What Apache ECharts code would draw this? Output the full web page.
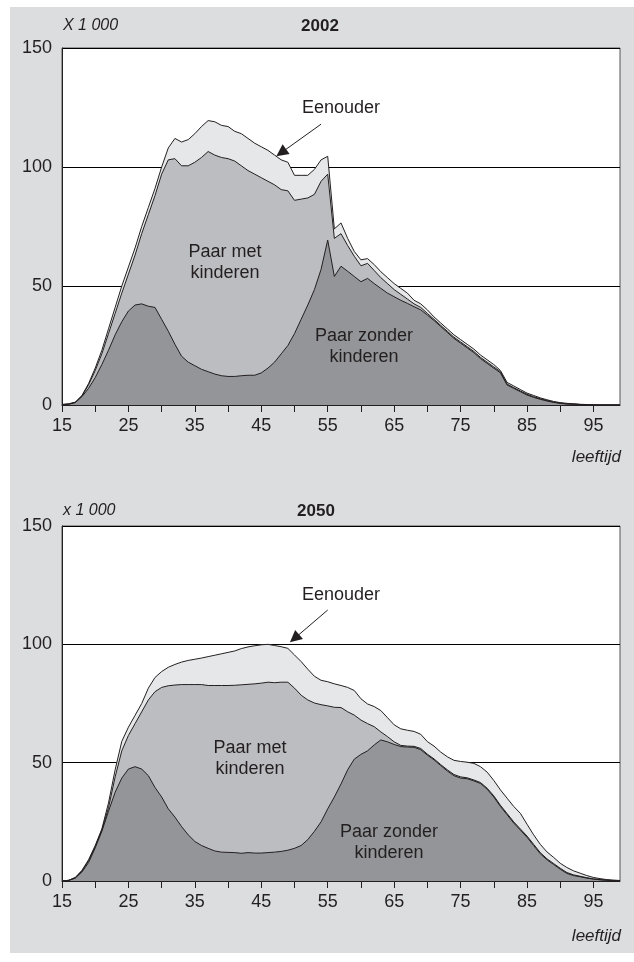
<!DOCTYPE html>
<html>
<head>
<meta charset="utf-8">
<title>Huishoudens naar leeftijd, 2002 en 2050</title>
<script src="https://cdn.jsdelivr.net/npm/echarts@6/dist/echarts.min.js"></script>
<style>
  html, body { margin: 0; padding: 0; background: #fff; }
  #panel { position: absolute; left: 10px; top: 7px; width: 624px; height: 946px; background: #dcdddf; }
  #main { position: absolute; left: 0; top: 0; width: 634px; height: 962px; }
</style>
</head>
<body>
<div id="panel"></div>
<div id="main"></div>
<script>
// leeftijd 15..99
var ages = [];
for (var a = 15; a <= 99; a++) ages.push(a);

// upper edges of the stacked layers (x 1 000)
// 2002
var zonder2002 = [0.1, 0.3, 1, 3.5, 7, 11.5, 17, 23, 29.5, 35,
  39.5, 42, 42.5, 41.5, 41, 36, 31, 25.5, 20.5, 18,
  16.5, 15, 14, 13, 12.3, 12, 12, 12.3, 12.5, 12.5,
  13.5, 15.5, 18, 21.5, 25, 30, 36, 42, 48.5, 57,
  69.3, 54, 58.3, 56.2, 54, 51.8, 53.2, 51, 49, 47,
  45.5, 44, 42.7, 41.3, 40, 37.8, 35.5, 33, 30.5, 28,
  26, 24, 22, 19.5, 17.5, 15.5, 13.5, 8.4, 7, 5.6,
  4.2, 3.2, 2.4, 1.7, 1.1, 0.7, 0.4, 0.3, 0.2, 0.1,
  0, 0, 0, 0, 0];
var met2002 = [0.2, 0.4, 1.1, 3.8, 8.5, 14.5, 21.5, 30, 38.5, 47,
  55, 63, 72, 80, 88, 97, 103, 103.5, 100.5, 100.5,
  102, 104, 106.5, 105, 104, 103.5, 102.5, 100.5, 98.5, 97,
  95.5, 94, 92.5, 90.5, 90, 86, 86.5, 87, 88.5, 94,
  97, 70, 72, 67, 62.5, 58.5, 59.5, 56.5, 53.5, 51,
  48.5, 46.5, 44.5, 42.5, 41, 38.5, 36, 33.5, 31, 28.5,
  26.5, 24.5, 22.5, 20, 18, 16, 14, 8.8, 7.3, 5.9,
  4.5, 3.5, 2.6, 1.9, 1.2, 0.8, 0.5, 0.4, 0.2, 0.1,
  0, 0, 0, 0, 0];
var eenouder2002 = [0.2, 0.5, 1.2, 4, 9, 15.5, 23, 32, 41, 50,
  58, 66, 75, 83, 91, 100, 108, 112, 110.5, 111.5,
  114, 117, 119.5, 119, 117.5, 117, 115, 114, 112, 110,
  108.5, 107, 105, 103, 102, 96.5, 96.5, 96.5, 99, 103,
  104.5, 74, 76.5, 70, 64.5, 61, 61.5, 59, 56, 53.5,
  51, 49, 47, 44, 42.5, 40, 37, 34.5, 32, 29.5,
  27.5, 25.5, 23.5, 21, 19, 17, 14.5, 9.5, 8, 6.5,
  5, 4, 3, 2.2, 1.5, 1, 0.7, 0.5, 0.3, 0.2,
  0.1, 0, 0, 0, 0];

// 2050
var zonder2050 = [0, 0.2, 1.2, 3.8, 7.8, 14, 21, 29.5, 37.5, 43.5,
  47.3, 48.3, 47.3, 44.5, 39.5, 35.5, 30.5, 27, 23, 19.5,
  16.7, 15, 13.8, 12.7, 12.2, 12.1, 12, 11.7, 12, 11.8,
  11.8, 12, 12.2, 12.5, 13, 13.8, 15, 17.5, 21, 25,
  30.5, 35.5, 41, 47, 51.5, 53.5, 55, 57.5, 59.6, 58.8,
  57.7, 56.8, 56.6, 56.5, 55.5, 53.2, 51.2, 48.8, 46.5, 44.5,
  43.5, 43.2, 42.3, 41.2, 38.8, 35.5, 31.5, 28, 24.5, 21.5,
  18.5, 15, 11.5, 9, 7, 5, 3.2, 2.3, 1.8, 1.2,
  0.8, 0.5, 0.3, 0.1, 0];
var met2050 = [0, 0.3, 1.4, 4.2, 8.5, 14.5, 21.5, 31, 44, 55,
  61.5, 66.5, 71.5, 76.5, 80, 81.8, 82.5, 82.8, 83, 83,
  83, 83, 82.6, 82.6, 82.6, 82.6, 82.7, 82.9, 83.1, 83.3,
  83.6, 84, 83.8, 84, 84, 81.5, 78.5, 76.5, 75.2, 74.5,
  74, 73.4, 73.3, 71.5, 70.1, 68, 66.5, 65.2, 63, 61,
  58.8, 57.3, 57, 56.9, 56, 53.6, 51.6, 49.2, 47, 45,
  44, 43.6, 42.7, 41.6, 39.2, 36, 32, 28.5, 25, 22,
  19, 15.5, 12, 9.4, 7.4, 5.4, 3.6, 2.6, 2, 1.4,
  0.9, 0.6, 0.35, 0.15, 0];
var eenouder2050 = [0, 0.3, 1.5, 4.5, 9, 15, 22, 33, 47, 59,
  65, 70, 75, 81.5, 86, 88.5, 90.3, 91.5, 92.5, 93.2,
  93.7, 94.2, 94.8, 95.4, 96, 96.6, 97.2, 98.2, 98.9, 99.4,
  99.8, 100, 99.5, 99, 98.3, 95.5, 92.7, 89.5, 86.5, 84.8,
  84.2, 83.3, 82.6, 81.8, 80.5, 77, 74.8, 73.7, 72, 69,
  66, 64.3, 63.7, 63.2, 62, 58.9, 57, 54.5, 52.5, 51,
  50.5, 50.2, 49.7, 48.3, 46, 42.5, 38.5, 35, 31.5, 28.6,
  24, 19.5, 15.5, 12.3, 10, 7.5, 5.7, 4.3, 3.3, 2.3,
  1.5, 1, 0.6, 0.4, 0.2];

var txt = '#231f20';
var font = 'Liberation Sans, Arial, sans-serif';

var myChart = echarts.init(document.getElementById('main'));

function xAxisFor(i) {
  return {
    type: 'category', gridIndex: i, data: ages, boundaryGap: false,
    axisLine: { lineStyle: { color: txt, width: 1 } },
    axisTick: { interval: 4, length: 7, lineStyle: { color: txt } },
    axisLabel: { interval: 9, margin: 12, fontSize: 18, color: txt, fontFamily: font },
    splitLine: { show: false }
  };
}
function yAxisFor(i) {
  return {
    type: 'value', gridIndex: i, min: 0, max: 150, interval: 50,
    axisLine: { show: true, lineStyle: { color: txt, width: 1 } },
    axisTick: { show: false },
    axisLabel: { margin: 10, fontSize: 18, color: txt, fontFamily: font },
    splitLine: { show: true, lineStyle: { color: '#000', width: 1 } }
  };
}
function layer(name, data, color, i, extra) {
  var s = {
    name: name, type: 'line', xAxisIndex: i, yAxisIndex: i, data: data,
    showSymbol: false, symbol: 'none', smooth: false,
    lineStyle: { color: txt, width: 1 },
    areaStyle: { color: color, opacity: 1 },
    silent: true
  };
  if (extra) s.markLine = extra;
  return s;
}
function arrow(from, to) {
  return {
    silent: true, symbol: ['none', 'triangle'], symbolSize: 12,
    lineStyle: { color: txt, width: 1, type: 'solid', opacity: 1 },
    itemStyle: { color: txt },
    label: { show: false }, emphasis: { disabled: true },
    z: 20,
    data: [[{ coord: from }, { coord: to }]]
  };
}
function label(text, x, y, opts) {
  var st = { text: text, x: x, y: y, fill: txt, font: '18px ' + font, align: 'center', verticalAlign: 'middle', lineHeight: 21 };
  for (var k in opts) st[k] = opts[k];
  return { type: 'text', style: st, z: 100 };
}

var option = {
  animation: false,
  textStyle: { fontFamily: font },
  grid: [
    { left: 62, top: 48, width: 558, height: 357, show: true, backgroundColor: '#fff', borderColor: '#555', borderWidth: 1 },
    { left: 62, top: 526, width: 558, height: 355, show: true, backgroundColor: '#fff', borderColor: '#555', borderWidth: 1 }
  ],
  xAxis: [xAxisFor(0), xAxisFor(1)],
  yAxis: [yAxisFor(0), yAxisFor(1)],
  series: [
    layer('Eenouder', eenouder2002, '#e6e7e8', 0),
    layer('Paar met kinderen', met2002, '#bcbdc0', 0),
    layer('Paar zonder kinderen', zonder2002, '#939598', 0, arrow([39, 118], [33, 106])),
    layer('Eenouder', eenouder2050, '#e6e7e8', 1),
    layer('Paar met kinderen', met2050, '#bcbdc0', 1),
    layer('Paar zonder kinderen', zonder2050, '#939598', 1, arrow([40, 114.5], [35, 102.5]))
  ],
  graphic: [
    label('X 1 000', 63, 26, { align: 'left', font: 'italic 16px ' + font }),
    label('2002', 320, 26, { font: 'bold 17px ' + font }),
    label('Eenouder', 341, 108),
    label('Paar met\nkinderen', 225, 263),
    label('Paar zonder\nkinderen', 364, 347),
    label('leeftijd', 621, 457, { align: 'right', font: 'italic 17px ' + font }),

    label('x 1 000', 63, 511, { align: 'left', font: 'italic 16px ' + font }),
    label('2050', 316, 511, { font: 'bold 17px ' + font }),
    label('Eenouder', 341, 595),
    label('Paar met\nkinderen', 250, 759),
    label('Paar zonder\nkinderen', 389, 843),
    label('leeftijd', 621, 936, { align: 'right', font: 'italic 17px ' + font })
  ]
};

myChart.setOption(option);
</script>
</body>
</html>
